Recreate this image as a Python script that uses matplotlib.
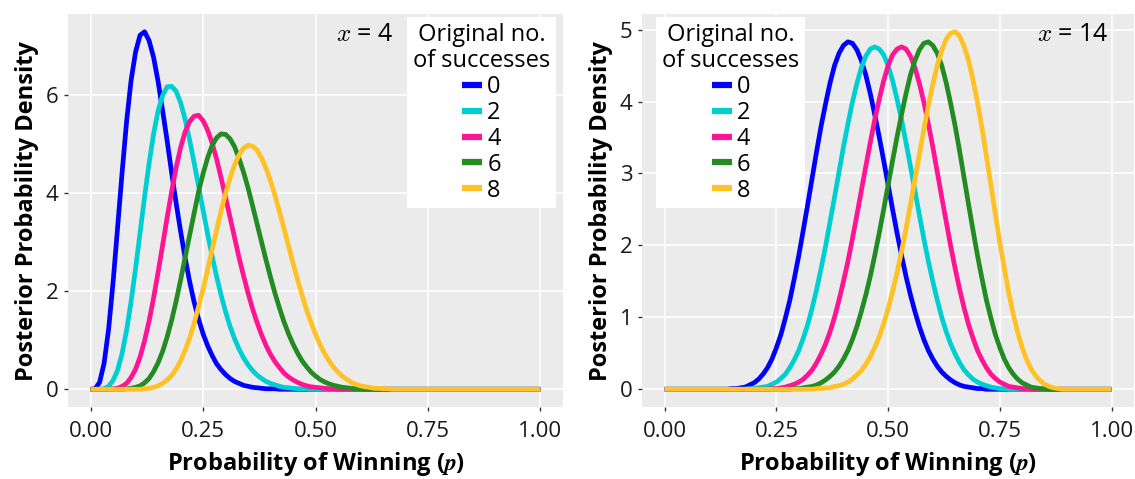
import matplotlib.pyplot as plt

plt.rcParams['font.family'] = ['Open Sans', 'DejaVu Sans']
plt.rcParams['mathtext.fontset'] = 'cm'

# probability of winning, sampled every 0.01
p = [0.00, 0.01, 0.02, 0.03, 0.04, 0.05, 0.06, 0.07, 0.08, 0.09,
     0.10, 0.11, 0.12, 0.13, 0.14, 0.15, 0.16, 0.17, 0.18, 0.19,
     0.20, 0.21, 0.22, 0.23, 0.24, 0.25, 0.26, 0.27, 0.28, 0.29,
     0.30, 0.31, 0.32, 0.33, 0.34, 0.35, 0.36, 0.37, 0.38, 0.39,
     0.40, 0.41, 0.42, 0.43, 0.44, 0.45, 0.46, 0.47, 0.48, 0.49,
     0.50, 0.51, 0.52, 0.53, 0.54, 0.55, 0.56, 0.57, 0.58, 0.59,
     0.60, 0.61, 0.62, 0.63, 0.64, 0.65, 0.66, 0.67, 0.68, 0.69,
     0.70, 0.71, 0.72, 0.73, 0.74, 0.75, 0.76, 0.77, 0.78, 0.79,
     0.80, 0.81, 0.82, 0.83, 0.84, 0.85, 0.86, 0.87, 0.88, 0.89,
     0.90, 0.91, 0.92, 0.93, 0.94, 0.95, 0.96, 0.97, 0.98, 0.99, 1.00]

successes = ['0', '2', '4', '6', '8']
colours = ['#0000FF', '#00CED1', '#FF1493', '#228B22', '#FFC125']

# x = 4 panel (density values)
left_s0 = [0, 0.01, 0.14, 0.53, 1.22, 2.18, 3.29, 4.41, 5.45, 6.29,
           6.87, 7.21, 7.28, 7.10, 6.76, 6.27, 5.68, 5.07, 4.42, 3.80,
           3.22, 2.68, 2.20, 1.78, 1.43, 1.13, 0.89, 0.69, 0.52, 0.40,
           0.30, 0.22, 0.16, 0.12, 0.08, 0.06, 0.04, 0.03, 0.02, 0.01,
           0.01, 0.01] + [0] * 59
left_s2 = [0, 0, 0, 0.01, 0.06, 0.18, 0.39, 0.73, 1.20, 1.79,
           2.46, 3.19, 3.92, 4.60, 5.20, 5.67, 5.98, 6.16, 6.17, 6.07,
           5.84, 5.50, 5.08, 4.62, 4.14, 3.65, 3.17, 2.72, 2.30, 1.92,
           1.58, 1.28, 1.03, 0.82, 0.64, 0.50, 0.38, 0.29, 0.22, 0.16,
           0.12, 0.09, 0.06, 0.04, 0.03, 0.02, 0.01, 0.01, 0.01] + [0] * 52
left_s4 = [0, 0, 0, 0, 0, 0.01, 0.02, 0.06, 0.12, 0.24,
           0.41, 0.66, 0.99, 1.39, 1.86, 2.38, 2.93, 3.49, 4.02, 4.51,
           4.92, 5.24, 5.45, 5.56, 5.58, 5.47, 5.28, 5.02, 4.69, 4.31,
           3.91, 3.50, 3.09, 2.68, 2.31, 1.96, 1.64, 1.36, 1.11, 0.89,
           0.71, 0.56, 0.44, 0.33, 0.25, 0.19, 0.14, 0.10, 0.07, 0.05,
           0.04, 0.03, 0.02, 0.01, 0.01] + [0] * 46
left_s6 = [0] * 8 + [0.01, 0.02,
           0.04, 0.07, 0.13, 0.22, 0.36, 0.54, 0.77, 1.06, 1.40, 1.79,
           2.22, 2.68, 3.13, 3.58, 4.02, 4.39, 4.71, 4.96, 5.12, 5.20,
           5.19, 5.10, 4.94, 4.70, 4.42, 4.10, 3.74, 3.37, 3.00, 2.63,
           2.28, 1.95, 1.65, 1.37, 1.13, 0.92, 0.74, 0.58, 0.46, 0.35,
           0.27, 0.20, 0.15, 0.11, 0.08, 0.06, 0.04, 0.03, 0.02, 0.01,
           0.01] + [0] * 40
left_s8 = [0] * 12 + [0.01, 0.02, 0.04, 0.07, 0.12, 0.19, 0.28, 0.41,
           0.58, 0.79, 1.04, 1.34, 1.68, 2.04, 2.43, 2.84, 3.24, 3.63,
           3.99, 4.30, 4.57, 4.77, 4.91, 4.97, 4.95, 4.87, 4.71, 4.50,
           4.24, 3.94, 3.61, 3.27, 2.92, 2.57, 2.23, 1.92, 1.62, 1.36,
           1.12, 0.91, 0.73, 0.58, 0.45, 0.35, 0.26, 0.20, 0.14, 0.10,
           0.07, 0.05, 0.04, 0.02, 0.02, 0.01, 0.01] + [0] * 34

# x = 14 panel (density values)
right_s0 = [0] * 15 + [0.01, 0.01, 0.02, 0.03, 0.06,
            0.09, 0.14, 0.21, 0.30, 0.42, 0.58, 0.76, 0.99, 1.24, 1.54,
            1.86, 2.21, 2.57, 2.94, 3.31, 3.66, 3.97, 4.26, 4.50, 4.67,
            4.78, 4.83, 4.81, 4.72, 4.57, 4.37, 4.11, 3.82, 3.51, 3.18,
            2.84, 2.50, 2.17, 1.86, 1.57, 1.31, 1.08, 0.87, 0.69, 0.54,
            0.42, 0.32, 0.24, 0.18, 0.13, 0.09, 0.06, 0.04, 0.03, 0.02,
            0.01, 0.01] + [0] * 29
right_s2 = [0] * 19 + [0.01,
            0.01, 0.02, 0.03, 0.04, 0.07, 0.10, 0.15, 0.21, 0.30, 0.41,
            0.54, 0.71, 0.90, 1.13, 1.39, 1.68, 1.99, 2.33, 2.67, 3.02,
            3.37, 3.69, 3.99, 4.25, 4.47, 4.63, 4.73, 4.76, 4.73, 4.65,
            4.50, 4.29, 4.03, 3.75, 3.43, 3.10, 2.76, 2.42, 2.09, 1.78,
            1.50, 1.24, 1.00, 0.80, 0.63, 0.49, 0.37, 0.27, 0.20, 0.14,
            0.10, 0.07, 0.05, 0.03, 0.02, 0.01, 0.01] + [0] * 24
right_s4 = [0] * 24 + [0.01, 0.01, 0.02, 0.03, 0.05, 0.07,
            0.10, 0.14, 0.20, 0.27, 0.37, 0.49, 0.63, 0.80, 1.00, 1.24,
            1.50, 1.78, 2.09, 2.42, 2.76, 3.10, 3.43, 3.75, 4.03, 4.29,
            4.50, 4.65, 4.73, 4.76, 4.73, 4.63, 4.47, 4.25, 3.99, 3.69,
            3.37, 3.02, 2.67, 2.33, 1.99, 1.68, 1.39, 1.13, 0.90, 0.71,
            0.54, 0.41, 0.30, 0.21, 0.15, 0.10, 0.07, 0.04, 0.03, 0.02,
            0.01, 0.01] + [0] * 19
right_s6 = [0] * 29 + [0.01,
            0.01, 0.02, 0.03, 0.04, 0.06, 0.09, 0.13, 0.18, 0.24, 0.32,
            0.42, 0.54, 0.69, 0.87, 1.08, 1.31, 1.57, 1.86, 2.17, 2.50,
            2.84, 3.18, 3.51, 3.82, 4.11, 4.37, 4.57, 4.72, 4.81, 4.83,
            4.78, 4.67, 4.50, 4.26, 3.97, 3.66, 3.31, 2.94, 2.57, 2.21,
            1.86, 1.54, 1.24, 0.99, 0.76, 0.58, 0.42, 0.30, 0.21, 0.14,
            0.09, 0.06, 0.03, 0.02, 0.01, 0.01] + [0] * 15
right_s8 = [0] * 34 + [0.01, 0.01, 0.02, 0.02, 0.04, 0.05,
            0.07, 0.10, 0.14, 0.20, 0.26, 0.35, 0.45, 0.58, 0.73, 0.91,
            1.12, 1.36, 1.62, 1.92, 2.23, 2.57, 2.92, 3.27, 3.61, 3.94,
            4.24, 4.50, 4.71, 4.87, 4.95, 4.97, 4.91, 4.77, 4.57, 4.30,
            3.99, 3.63, 3.24, 2.84, 2.43, 2.04, 1.68, 1.34, 1.04, 0.79,
            0.58, 0.41, 0.28, 0.19, 0.12, 0.07, 0.04, 0.02, 0.01] + [0] * 12

left_curves = [left_s0, left_s2, left_s4, left_s6, left_s8]
right_curves = [right_s0, right_s2, right_s4, right_s6, right_s8]
for c in left_curves + right_curves:
    assert len(c) == len(p), len(c)

fig = plt.figure(figsize=(11.35, 4.79), dpi=100)
ax1 = fig.add_axes([0.060, 0.150, 0.436, 0.821])
ax2 = fig.add_axes([0.566, 0.150, 0.433, 0.821])


def draw(ax, curves, yticks, label, lab_x, leg_loc, leg_anchor):
    ax.set_facecolor('#EBEBEB')
    for s in ax.spines.values():
        s.set_visible(False)
    ax.grid(True, color='white', lw=1.2)
    ax.set_axisbelow(True)
    for c, col, s in zip(curves, colours, successes):
        ax.plot(p, c, color=col, lw=3.4, label=s, solid_capstyle='butt')
    top = max(max(c) for c in curves)
    ax.set_xlim(-0.05, 1.05)
    ax.set_ylim(-0.05 * top, 1.05 * top)
    ax.set_xticks([0, 0.25, 0.5, 0.75, 1.0])
    ax.set_xticklabels(['0.00', '0.25', '0.50', '0.75', '1.00'])
    ax.set_yticks(yticks)
    ax.tick_params(length=3, width=1, color='#333333', labelsize=16,
                   labelcolor='#1A1A1A')
    ax.tick_params(axis='x', pad=7)
    ax.tick_params(axis='y', pad=4)
    ax.set_xlabel('Probability of Winning ($\\mathbfit{p}$)', fontsize=17,
                  fontweight='bold', labelpad=6)
    ax.set_ylabel('Posterior Probability Density', fontsize=17,
                  fontweight='bold', labelpad=5)
    ax.text(lab_x, 0.947, label, transform=ax.transAxes, ha='right', va='center',
            fontsize=18)
    leg = ax.legend(title='Original no.\nof successes', loc=leg_loc,
                    bbox_to_anchor=leg_anchor, frameon=True, fancybox=False,
                    edgecolor='none', facecolor='white', framealpha=1,
                    fontsize=17, title_fontsize=17, handlelength=0.85,
                    handletextpad=0.2, labelspacing=0.08, borderpad=0.25,
                    borderaxespad=0)
    leg.get_title().set_multialignment('center')
    leg.get_title().set_linespacing(1.12)
    for h in leg.get_lines():
        h.set_linewidth(4.5)


draw(ax1, left_curves, [0, 2, 4, 6], '$x$ = 4', 0.657, 'upper right', (0.986, 0.992))
draw(ax2, right_curves, [0, 1, 2, 3, 4, 5], '$x$ = 14', 0.949, 'upper left', (0.0285, 0.992))

plt.savefig('out.png')
